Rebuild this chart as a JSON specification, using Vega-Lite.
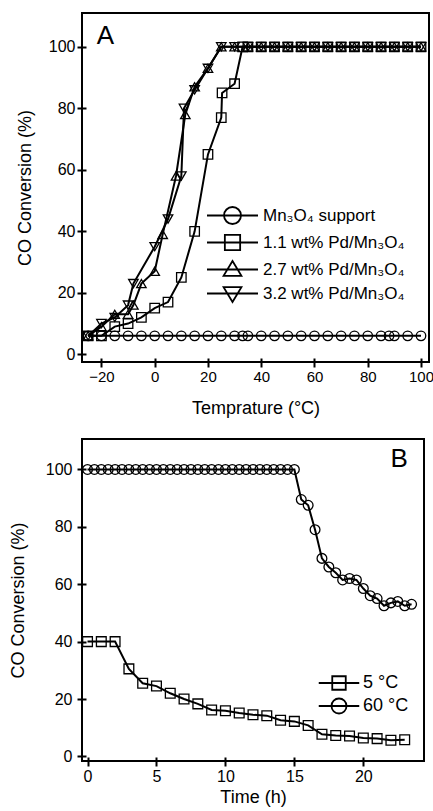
{
  "$schema": "https://vega.github.io/schema/vega-lite/v6.json",
  "padding": {"left": 8, "top": 12, "right": 0, "bottom": 4},
  "spacing": 20,
  "resolve": {"scale": {"shape": "independent"}, "legend": {"shape": "independent"}},
  "config": {
    "font": "Liberation Sans",
    "view": {"stroke": "black", "strokeWidth": 2},
    "axis": {"domain": false, "grid": false, "tickColor": "black", "tickWidth": 2, "tickSize": 9, "offset": -4, "labelFontSize": 16, "labelColor": "black", "labelPadding": 2, "titleFontSize": 18, "titleFontWeight": "normal", "titleColor": "black", "titlePadding": 14}
  },
  "vconcat": [
    {
      "width": 347,
      "height": 349,
      "resolve": {"scale": {"shape": "independent"}, "legend": {"shape": "independent"}},
      "data": {"values": [
        {"s": "Mn₃O₄ support", "t": -25, "c": 6}, {"s": "Mn₃O₄ support", "t": -20, "c": 6}, {"s": "Mn₃O₄ support", "t": -15, "c": 6}, {"s": "Mn₃O₄ support", "t": -10, "c": 6}, {"s": "Mn₃O₄ support", "t": -5, "c": 6}, {"s": "Mn₃O₄ support", "t": 0, "c": 6}, {"s": "Mn₃O₄ support", "t": 5, "c": 6}, {"s": "Mn₃O₄ support", "t": 10, "c": 6}, {"s": "Mn₃O₄ support", "t": 15, "c": 6}, {"s": "Mn₃O₄ support", "t": 20, "c": 6}, {"s": "Mn₃O₄ support", "t": 25, "c": 6}, {"s": "Mn₃O₄ support", "t": 30, "c": 6}, {"s": "Mn₃O₄ support", "t": 33, "c": 6}, {"s": "Mn₃O₄ support", "t": 35, "c": 6}, {"s": "Mn₃O₄ support", "t": 40, "c": 6}, {"s": "Mn₃O₄ support", "t": 45, "c": 6}, {"s": "Mn₃O₄ support", "t": 50, "c": 6}, {"s": "Mn₃O₄ support", "t": 55, "c": 6}, {"s": "Mn₃O₄ support", "t": 60, "c": 6}, {"s": "Mn₃O₄ support", "t": 65, "c": 6}, {"s": "Mn₃O₄ support", "t": 70, "c": 6}, {"s": "Mn₃O₄ support", "t": 75, "c": 6}, {"s": "Mn₃O₄ support", "t": 80, "c": 6}, {"s": "Mn₃O₄ support", "t": 85, "c": 6}, {"s": "Mn₃O₄ support", "t": 88, "c": 6}, {"s": "Mn₃O₄ support", "t": 90, "c": 6}, {"s": "Mn₃O₄ support", "t": 95, "c": 6}, {"s": "Mn₃O₄ support", "t": 100, "c": 6},
        {"s": "1.1 wt% Pd/Mn₃O₄", "t": -25, "c": 6}, {"s": "1.1 wt% Pd/Mn₃O₄", "t": -20, "c": 6}, {"s": "1.1 wt% Pd/Mn₃O₄", "t": -15, "c": 9}, {"s": "1.1 wt% Pd/Mn₃O₄", "t": -10, "c": 10}, {"s": "1.1 wt% Pd/Mn₃O₄", "t": -5, "c": 12}, {"s": "1.1 wt% Pd/Mn₃O₄", "t": 0, "c": 15}, {"s": "1.1 wt% Pd/Mn₃O₄", "t": 5, "c": 17}, {"s": "1.1 wt% Pd/Mn₃O₄", "t": 10, "c": 25}, {"s": "1.1 wt% Pd/Mn₃O₄", "t": 15, "c": 40}, {"s": "1.1 wt% Pd/Mn₃O₄", "t": 20, "c": 65}, {"s": "1.1 wt% Pd/Mn₃O₄", "t": 25, "c": 77}, {"s": "1.1 wt% Pd/Mn₃O₄", "t": 25.3, "c": 85}, {"s": "1.1 wt% Pd/Mn₃O₄", "t": 30, "c": 88}, {"s": "1.1 wt% Pd/Mn₃O₄", "t": 33, "c": 100}, {"s": "1.1 wt% Pd/Mn₃O₄", "t": 35, "c": 100}, {"s": "1.1 wt% Pd/Mn₃O₄", "t": 40, "c": 100}, {"s": "1.1 wt% Pd/Mn₃O₄", "t": 45, "c": 100}, {"s": "1.1 wt% Pd/Mn₃O₄", "t": 50, "c": 100}, {"s": "1.1 wt% Pd/Mn₃O₄", "t": 55, "c": 100}, {"s": "1.1 wt% Pd/Mn₃O₄", "t": 60, "c": 100}, {"s": "1.1 wt% Pd/Mn₃O₄", "t": 65, "c": 100}, {"s": "1.1 wt% Pd/Mn₃O₄", "t": 70, "c": 100}, {"s": "1.1 wt% Pd/Mn₃O₄", "t": 75, "c": 100}, {"s": "1.1 wt% Pd/Mn₃O₄", "t": 80, "c": 100}, {"s": "1.1 wt% Pd/Mn₃O₄", "t": 85, "c": 100}, {"s": "1.1 wt% Pd/Mn₃O₄", "t": 90, "c": 100}, {"s": "1.1 wt% Pd/Mn₃O₄", "t": 95, "c": 100}, {"s": "1.1 wt% Pd/Mn₃O₄", "t": 100, "c": 100},
        {"s": "2.7 wt% Pd/Mn₃O₄", "t": -25, "c": 6}, {"s": "2.7 wt% Pd/Mn₃O₄", "t": -20, "c": 9}, {"s": "2.7 wt% Pd/Mn₃O₄", "t": -15, "c": 13}, {"s": "2.7 wt% Pd/Mn₃O₄", "t": -10, "c": 13}, {"s": "2.7 wt% Pd/Mn₃O₄", "t": -8, "c": 16}, {"s": "2.7 wt% Pd/Mn₃O₄", "t": -5, "c": 23}, {"s": "2.7 wt% Pd/Mn₃O₄", "t": 0, "c": 27}, {"s": "2.7 wt% Pd/Mn₃O₄", "t": 3, "c": 39}, {"s": "2.7 wt% Pd/Mn₃O₄", "t": 8, "c": 58}, {"s": "2.7 wt% Pd/Mn₃O₄", "t": 11.5, "c": 78}, {"s": "2.7 wt% Pd/Mn₃O₄", "t": 15, "c": 87}, {"s": "2.7 wt% Pd/Mn₃O₄", "t": 20, "c": 93}, {"s": "2.7 wt% Pd/Mn₃O₄", "t": 25, "c": 100}, {"s": "2.7 wt% Pd/Mn₃O₄", "t": 30, "c": 100}, {"s": "2.7 wt% Pd/Mn₃O₄", "t": 35, "c": 100}, {"s": "2.7 wt% Pd/Mn₃O₄", "t": 40, "c": 100}, {"s": "2.7 wt% Pd/Mn₃O₄", "t": 45, "c": 100}, {"s": "2.7 wt% Pd/Mn₃O₄", "t": 50, "c": 100}, {"s": "2.7 wt% Pd/Mn₃O₄", "t": 55, "c": 100}, {"s": "2.7 wt% Pd/Mn₃O₄", "t": 60, "c": 100}, {"s": "2.7 wt% Pd/Mn₃O₄", "t": 65, "c": 100}, {"s": "2.7 wt% Pd/Mn₃O₄", "t": 70, "c": 100}, {"s": "2.7 wt% Pd/Mn₃O₄", "t": 75, "c": 100}, {"s": "2.7 wt% Pd/Mn₃O₄", "t": 80, "c": 100}, {"s": "2.7 wt% Pd/Mn₃O₄", "t": 85, "c": 100}, {"s": "2.7 wt% Pd/Mn₃O₄", "t": 90, "c": 100}, {"s": "2.7 wt% Pd/Mn₃O₄", "t": 95, "c": 100}, {"s": "2.7 wt% Pd/Mn₃O₄", "t": 100, "c": 100},
        {"s": "3.2 wt% Pd/Mn₃O₄", "t": -25, "c": 6}, {"s": "3.2 wt% Pd/Mn₃O₄", "t": -20, "c": 10}, {"s": "3.2 wt% Pd/Mn₃O₄", "t": -15, "c": 12}, {"s": "3.2 wt% Pd/Mn₃O₄", "t": -10, "c": 16}, {"s": "3.2 wt% Pd/Mn₃O₄", "t": -8, "c": 23}, {"s": "3.2 wt% Pd/Mn₃O₄", "t": 0, "c": 35}, {"s": "3.2 wt% Pd/Mn₃O₄", "t": 5, "c": 44}, {"s": "3.2 wt% Pd/Mn₃O₄", "t": 10, "c": 58}, {"s": "3.2 wt% Pd/Mn₃O₄", "t": 11, "c": 80}, {"s": "3.2 wt% Pd/Mn₃O₄", "t": 15, "c": 86}, {"s": "3.2 wt% Pd/Mn₃O₄", "t": 20, "c": 93}, {"s": "3.2 wt% Pd/Mn₃O₄", "t": 25, "c": 100}, {"s": "3.2 wt% Pd/Mn₃O₄", "t": 30, "c": 100}, {"s": "3.2 wt% Pd/Mn₃O₄", "t": 35, "c": 100}, {"s": "3.2 wt% Pd/Mn₃O₄", "t": 40, "c": 100}, {"s": "3.2 wt% Pd/Mn₃O₄", "t": 45, "c": 100}, {"s": "3.2 wt% Pd/Mn₃O₄", "t": 50, "c": 100}, {"s": "3.2 wt% Pd/Mn₃O₄", "t": 55, "c": 100}, {"s": "3.2 wt% Pd/Mn₃O₄", "t": 60, "c": 100}, {"s": "3.2 wt% Pd/Mn₃O₄", "t": 65, "c": 100}, {"s": "3.2 wt% Pd/Mn₃O₄", "t": 70, "c": 100}, {"s": "3.2 wt% Pd/Mn₃O₄", "t": 75, "c": 100}, {"s": "3.2 wt% Pd/Mn₃O₄", "t": 80, "c": 100}, {"s": "3.2 wt% Pd/Mn₃O₄", "t": 85, "c": 100}, {"s": "3.2 wt% Pd/Mn₃O₄", "t": 90, "c": 100}, {"s": "3.2 wt% Pd/Mn₃O₄", "t": 95, "c": 100}, {"s": "3.2 wt% Pd/Mn₃O₄", "t": 100, "c": 100}
      ]},
      "encoding": {
        "x": {"field": "t", "type": "quantitative", "scale": {"domain": [-27.3, 103], "nice": false, "zero": false}, "axis": {"values": [-20, 0, 20, 40, 60, 80, 100], "title": "Temprature (°C)", "titlePadding": 15, "labelFontSize": 15}},
        "y": {"field": "c", "type": "quantitative", "scale": {"domain": [-2.5, 111], "nice": false, "zero": false}, "axis": {"values": [0, 20, 40, 60, 80, 100], "title": "CO Conversion (%)"}}
      },
      "layer": [
        {"mark": {"type": "line", "color": "black", "strokeWidth": 2}, "encoding": {"detail": {"field": "s"}}},
        {"mark": {"type": "point", "color": "black", "filled": false, "opacity": 1, "strokeWidth": 1.3, "size": 90},
         "encoding": {"shape": {"field": "s", "type": "nominal",
           "scale": {"domain": ["Mn₃O₄ support", "1.1 wt% Pd/Mn₃O₄", "2.7 wt% Pd/Mn₃O₄", "3.2 wt% Pd/Mn₃O₄"], "range": ["circle", "square", "triangle-up", "triangle-down"]},
           "legend": null}}},
        {"mark": {"type": "point", "color": "black", "filled": false, "opacity": 0, "size": 10},
         "encoding": {"shape": {"field": "s", "type": "nominal",
           "scale": {"domain": ["Mn₃O₄ support", "1.1 wt% Pd/Mn₃O₄", "2.7 wt% Pd/Mn₃O₄", "3.2 wt% Pd/Mn₃O₄"], "range": ["M-3,0H3M-1,0A1,1 0 1,1 1,0A1,1 0 1,1 -1,0Z", "M-3,0H3M-0.9,-0.9H0.9V0.9H-0.9Z", "M-3,0H3M0,-1L1.05,0.75L-1.05,0.75Z", "M-3,0H3M0,1L1.05,-0.75L-1.05,-0.75Z"]},
           "legend": {"title": null, "orient": "none", "legendX": 141, "legendY": 193, "padding": 0, "labelFontSize": 17, "labelColor": "black", "labelOffset": 21, "rowPadding": 3, "symbolSize": 289, "symbolOpacity": 1, "symbolStrokeWidth": 1.8, "symbolStrokeColor": "black", "symbolFillColor": "transparent"}}}},
        {"data": {"values": [{"t": -18.5, "c": 103.5, "lab": "A"}]}, "mark": {"type": "text", "fontSize": 26, "color": "black"}, "encoding": {"text": {"field": "lab"}}}
      ]
    },
    {
      "width": 342,
      "height": 322,
      "resolve": {"scale": {"shape": "independent"}, "legend": {"shape": "independent"}},
      "data": {"values": [
        {"s": "5 °C", "t": 0, "c": 40}, {"s": "5 °C", "t": 1, "c": 40}, {"s": "5 °C", "t": 2, "c": 40}, {"s": "5 °C", "t": 3, "c": 30.5}, {"s": "5 °C", "t": 4, "c": 25.5}, {"s": "5 °C", "t": 5, "c": 24.5}, {"s": "5 °C", "t": 6, "c": 22}, {"s": "5 °C", "t": 7, "c": 20}, {"s": "5 °C", "t": 8, "c": 18.3}, {"s": "5 °C", "t": 9, "c": 16.2}, {"s": "5 °C", "t": 10, "c": 15.9}, {"s": "5 °C", "t": 11, "c": 15.1}, {"s": "5 °C", "t": 12, "c": 14.5}, {"s": "5 °C", "t": 13, "c": 14.2}, {"s": "5 °C", "t": 14, "c": 12.6}, {"s": "5 °C", "t": 15, "c": 12.2}, {"s": "5 °C", "t": 16, "c": 10.8}, {"s": "5 °C", "t": 17, "c": 7.7}, {"s": "5 °C", "t": 18, "c": 7.3}, {"s": "5 °C", "t": 19, "c": 7.1}, {"s": "5 °C", "t": 20, "c": 6.4}, {"s": "5 °C", "t": 21, "c": 6.2}, {"s": "5 °C", "t": 22, "c": 5.6}, {"s": "5 °C", "t": 23, "c": 5.8},
        {"s": "60 °C", "t": 0, "c": 100}, {"s": "60 °C", "t": 0.5, "c": 100}, {"s": "60 °C", "t": 1, "c": 100}, {"s": "60 °C", "t": 1.5, "c": 100}, {"s": "60 °C", "t": 2, "c": 100}, {"s": "60 °C", "t": 2.5, "c": 100}, {"s": "60 °C", "t": 3, "c": 100}, {"s": "60 °C", "t": 3.5, "c": 100}, {"s": "60 °C", "t": 4, "c": 100}, {"s": "60 °C", "t": 4.5, "c": 100}, {"s": "60 °C", "t": 5, "c": 100}, {"s": "60 °C", "t": 5.5, "c": 100}, {"s": "60 °C", "t": 6, "c": 100}, {"s": "60 °C", "t": 6.5, "c": 100}, {"s": "60 °C", "t": 7, "c": 100}, {"s": "60 °C", "t": 7.5, "c": 100}, {"s": "60 °C", "t": 8, "c": 100}, {"s": "60 °C", "t": 8.5, "c": 100}, {"s": "60 °C", "t": 9, "c": 100}, {"s": "60 °C", "t": 9.5, "c": 100}, {"s": "60 °C", "t": 10, "c": 100}, {"s": "60 °C", "t": 10.5, "c": 100}, {"s": "60 °C", "t": 11, "c": 100}, {"s": "60 °C", "t": 11.5, "c": 100}, {"s": "60 °C", "t": 12, "c": 100}, {"s": "60 °C", "t": 12.5, "c": 100}, {"s": "60 °C", "t": 13, "c": 100}, {"s": "60 °C", "t": 13.5, "c": 100}, {"s": "60 °C", "t": 14, "c": 100}, {"s": "60 °C", "t": 14.5, "c": 100}, {"s": "60 °C", "t": 15, "c": 100},
        {"s": "60 °C", "t": 15.5, "c": 89.5}, {"s": "60 °C", "t": 16, "c": 87.5}, {"s": "60 °C", "t": 16.5, "c": 79}, {"s": "60 °C", "t": 17, "c": 69}, {"s": "60 °C", "t": 17.5, "c": 66}, {"s": "60 °C", "t": 18, "c": 64}, {"s": "60 °C", "t": 18.5, "c": 61.5}, {"s": "60 °C", "t": 19, "c": 62}, {"s": "60 °C", "t": 19.5, "c": 61.5}, {"s": "60 °C", "t": 20, "c": 58.5}, {"s": "60 °C", "t": 20.5, "c": 56}, {"s": "60 °C", "t": 21, "c": 55}, {"s": "60 °C", "t": 21.5, "c": 52.5}, {"s": "60 °C", "t": 22, "c": 53.5}, {"s": "60 °C", "t": 22.5, "c": 54}, {"s": "60 °C", "t": 23, "c": 52.5}, {"s": "60 °C", "t": 23.5, "c": 53}
      ]},
      "encoding": {
        "x": {"field": "t", "type": "quantitative", "scale": {"domain": [-0.4, 24.4], "nice": false, "zero": false}, "axis": {"values": [0, 5, 10, 15, 20], "title": "Time (h)", "titlePadding": 4}},
        "y": {"field": "c", "type": "quantitative", "scale": {"domain": [-1.6, 110.6], "nice": false, "zero": false}, "axis": {"values": [0, 20, 40, 60, 80, 100], "title": "CO Conversion (%)", "titlePadding": 18, "labelPadding": 5}}
      },
      "layer": [
        {"mark": {"type": "line", "color": "black", "strokeWidth": 2}, "encoding": {"detail": {"field": "s"}}},
        {"mark": {"type": "point", "color": "black", "filled": false, "opacity": 1, "strokeWidth": 1.3, "size": 95},
         "encoding": {"shape": {"field": "s", "type": "nominal",
           "scale": {"domain": ["5 °C", "60 °C"], "range": ["square", "circle"]},
           "legend": null}}},
        {"mark": {"type": "point", "color": "black", "filled": false, "opacity": 0, "size": 10},
         "encoding": {"shape": {"field": "s", "type": "nominal",
           "scale": {"domain": ["5 °C", "60 °C"], "range": ["M-2.7,0H2.7M-0.9,-0.9H0.9V0.9H-0.9Z", "M-2.7,0H2.7M-1,0A1,1 0 1,1 1,0A1,1 0 1,1 -1,0Z"]},
           "legend": {"title": null, "orient": "none", "legendX": 248, "legendY": 235, "padding": 0, "labelFontSize": 18, "labelColor": "black", "labelOffset": 15, "rowPadding": 0, "symbolSize": 225, "symbolOpacity": 1, "symbolStrokeWidth": 1.8, "symbolStrokeColor": "black", "symbolFillColor": "transparent"}}}},
        {"data": {"values": [{"t": 22.6, "c": 103.8, "lab": "B"}]}, "mark": {"type": "text", "fontSize": 26, "color": "black"}, "encoding": {"text": {"field": "lab"}}}
      ]
    }
  ]
}
